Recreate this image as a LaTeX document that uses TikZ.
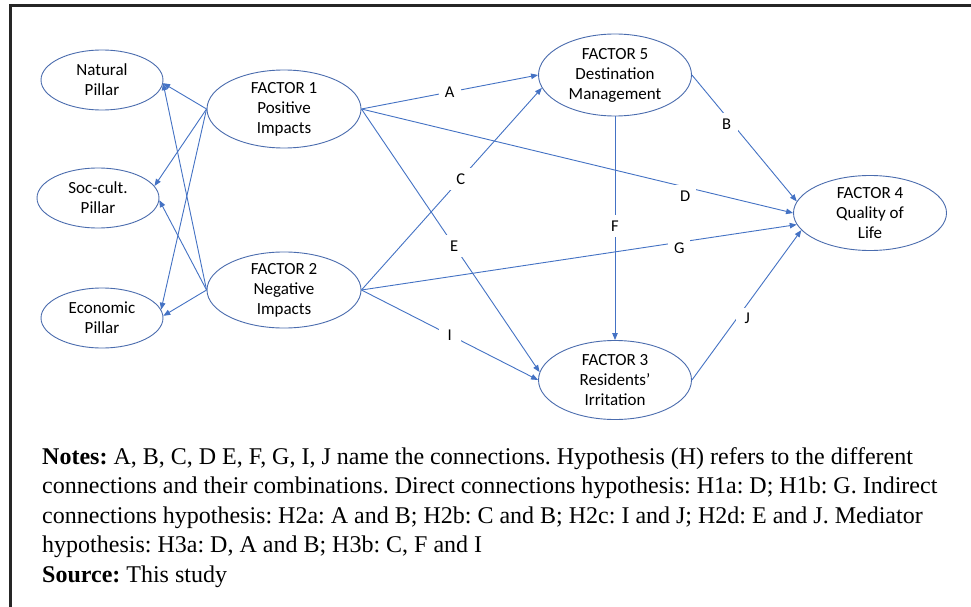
\documentclass[tikz,border=0pt]{standalone}
\usepackage{fontspec}
\setmainfont{Carlito}
\newfontfamily\notesfont{Liberation Serif}
\usetikzlibrary{arrows.meta,shapes.geometric}
\definecolor{lineblue}{HTML}{4472C4}
\definecolor{ellblue}{HTML}{4A6CAE}
\definecolor{framegray}{HTML}{262626}
\begin{document}
\frenchspacing
\begin{tikzpicture}[x=1pt,y=-1pt,
  fac/.style={ellipse, draw=ellblue, line width=0.9pt, inner sep=0pt, align=center,
    font=\fontsize{17}{20}\selectfont},
  conn/.style={draw=lineblue, line width=0.9pt, -{Triangle[length=7pt,width=5.5pt]}},
  lbl/.style={fill=white, inner sep=0pt, minimum width=22pt, minimum height=22pt,
    font=\fontsize{16.5}{19}\selectfont, text=black}]
\useasboundingbox (0,0) rectangle (971,607);
\fill[white] (0,0) rectangle (971,607);
\draw[framegray, line width=3pt] (10.5,607) -- (10.5,5.5) -- (971,5.5);

\node[fac, minimum width=122pt, minimum height=60pt] (nat) at (102,80) {Natural\\Pillar};
\node[fac, minimum width=122pt, minimum height=60pt] (soc) at (98,198) {Soc-cult.\\Pillar};
\node[fac, minimum width=122pt, minimum height=60pt] (eco) at (102,318) {Economic\\Pillar};
\node[fac, minimum width=154pt, minimum height=78pt] (f1) at (284,109) {FACTOR 1\\Positive\\Impacts};
\node[fac, minimum width=154pt, minimum height=75pt] (f2) at (284,290) {FACTOR 2\\Negative\\Impacts};
\node[fac, minimum width=153pt, minimum height=82pt] (f5) at (615,75) {FACTOR 5\\Destination\\Management};
\node[fac, minimum width=153pt, minimum height=75pt] (f4) at (870,213) {FACTOR 4\\Quality of\\Life};
\node[fac, minimum width=153pt, minimum height=79pt] (f3) at (615,380) {FACTOR 3\\Residents’\\Irritation};

\draw[conn] (f1.west) -- (nat.-3);
\draw[conn] (f1.west) -- (soc.12);
\draw[conn] (f1.west) -- (eco.8);
\draw[conn] (f2.west) -- (nat.-3);
\draw[conn] (f2.west) -- (soc.-2);
\draw[conn] (f2.west) -- (eco.2);

\draw[conn] (f1.east) -- node[lbl,pos=.5]{A} (f5.west);
\draw[conn] (f1.east) -- node[lbl,pos=.75,yshift=-9pt]{D} (f4.west);
\draw[conn] (f1.east) -- node[lbl,pos=.52]{E} (f3.174);
\draw[conn] (f2.east) -- node[lbl,pos=.55]{C} (f5.190);
\draw[conn] (f2.east) -- node[lbl,pos=.73,yshift=-6pt]{G} (f4.189);
\draw[conn] (f2.east) -- node[lbl,pos=.5]{I} (f3.west);
\draw[conn] (f5.south) -- node[lbl,pos=.49]{F} (f3.north);
\draw[conn] (f5.east) -- node[lbl,pos=.33,yshift=-7pt]{B} (f4.171);
\draw[conn] (f3.east) -- node[lbl,pos=.47,yshift=-9pt,xshift=4pt]{J} (f4.194);

\node[anchor=north west, align=left, inner sep=0pt,
  font=\notesfont\fontsize{24}{29.5}\selectfont] (notes) at (42,447)
{\textbf{Notes:} A, B, C, D E, F, G, I, J name the connections. Hypothesis (H) refers to the different\\
connections and their combinations. Direct connections hypothesis: H1a: D; H1b: G. Indirect\\
connections hypothesis: H2a: A and B; H2b: C and B; H2c: I and J; H2d: E and J. Mediator\\
hypothesis: H3a: D, A and B; H3b: C, F and I\\
\textbf{Source:} This study};
\end{tikzpicture}
\end{document}
